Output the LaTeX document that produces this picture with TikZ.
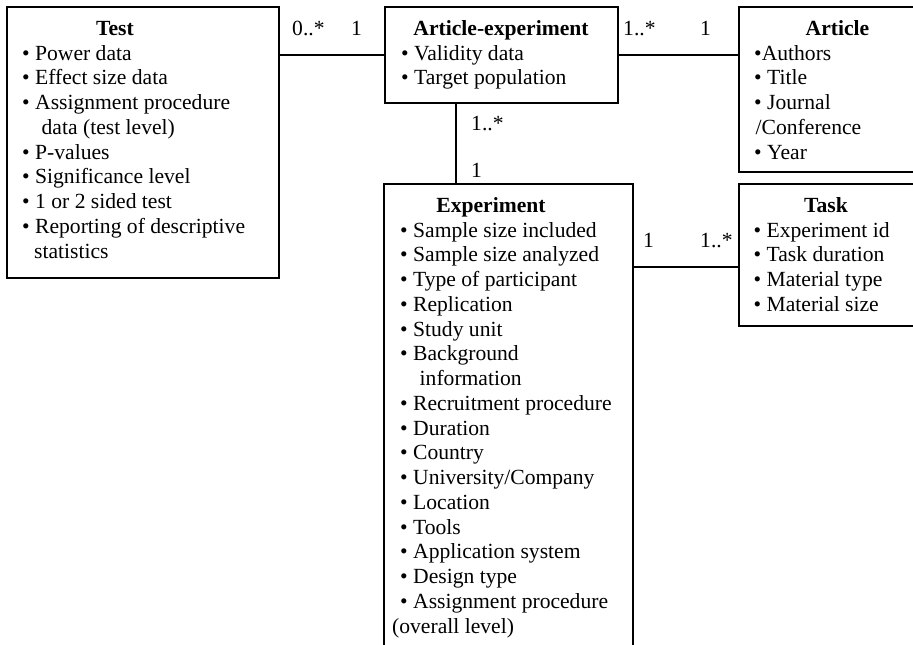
\documentclass[tikz,border=0pt]{standalone}
\usepackage{fontspec}
\setmainfont{Liberation Serif}
\begin{document}
\begin{tikzpicture}[x=1pt,y=-1pt,
  box/.style={draw, line width=1.3pt, outer sep=0pt, inner sep=0pt, anchor=north west},
  txt/.style={inner sep=0pt, anchor=base west, font=\fontsize{21.6}{24.75}\selectfont},
  ttl/.style={inner sep=0pt, anchor=base, font=\fontsize{21.6}{24.75}\selectfont\bfseries},
  conn/.style={line width=1.3pt}]
\useasboundingbox (0,0) rectangle (913,645);
\clip (0,0) rectangle (913,645);
\fill[white] (0,0) rectangle (913,645);
% boxes
\node[box, minimum width=272pt, minimum height=271pt] (test) at (7,7) {};
\node[box, minimum width=233pt, minimum height=96pt] (ae) at (385,7) {};
\node[box, minimum width=200pt, minimum height=165pt] (art) at (739,7) {};
\node[box, minimum width=249pt, minimum height=480pt] (exp) at (384,184) {};
\node[box, minimum width=200pt, minimum height=142pt] (task) at (739,184) {};
% connectors
\draw[conn] (ae.west) -- (ae.west -| test.east);
\draw[conn] (ae.east) -- (ae.east -| art.west);
\coordinate (aes) at ([xshift=-45.5pt]ae.south);
\draw[conn] (aes) -- (aes |- exp.north);
\coordinate (taskw) at ([yshift=-12pt]task.west);
\draw[conn] (taskw) -- (taskw -| exp.east);
% titles
\node[ttl] (ttest) at (115,35.5) {Test};
\node[ttl] (tae) at (501,35.5) {Article-experiment};
\node[ttl] (tart) at (837.5,35.5) {Article};
\node[ttl] (ttask) at (826,212.5) {Task};
\node[ttl] (texp) at (491,212.5) {Experiment};
% items
\foreach \t [count=\i] in {• Power data,• Effect size data,• Assignment procedure,\hspace*{19.5pt}data (test level),• P-values,• Significance level,• 1 or 2 sided test,• Reporting of descriptive,\hspace*{12pt}statistics}
  \node[txt, name=itest\i] at (22,{60+(\i-1)*24.75}) {\t};
\foreach \t [count=\i] in {• Validity data,• Target population}
  \node[txt, name=iae\i] at (401,{60+(\i-1)*24.75}) {\t};
\foreach \t [count=\i] in {•Authors,• Title,• Journal,\hspace*{1.5pt}/Conference,• Year}
  \node[txt, name=iart\i] at (754,{60+(\i-1)*24.75}) {\t};
\foreach \t [count=\i] in {• Experiment id,• Task duration,• Material type,• Material size}
  \node[txt, name=itask\i] at (753.5,{237+(\i-1)*24.75}) {\t};
\foreach \t [count=\i] in {• Sample size included,• Sample size analyzed,• Type of participant,• Replication,• Study unit,• Background,\hspace*{19.5pt}information,• Recruitment procedure,• Duration,• Country,• University/Company,• Location,• Tools,• Application system,• Design type,• Assignment procedure,\hspace*{-8pt}(overall level)}
  \node[txt, name=iexp\i] at (400,{237+(\i-1)*24.75}) {\t};
% multiplicities
\node[txt] (m1) at (292,35) {0..*};
\node[txt] (m2) at (351,35) {1};
\node[txt] (m3) at (623,35) {1..*};
\node[txt] (m4) at (700,35) {1};
\node[txt] (m5) at (471,130) {1..*};
\node[txt] (m6) at (471,177) {1};
\node[txt] (m7) at (643,247) {1};
\node[txt] (m8) at (700,247) {1..*};
\end{tikzpicture}
\end{document}
